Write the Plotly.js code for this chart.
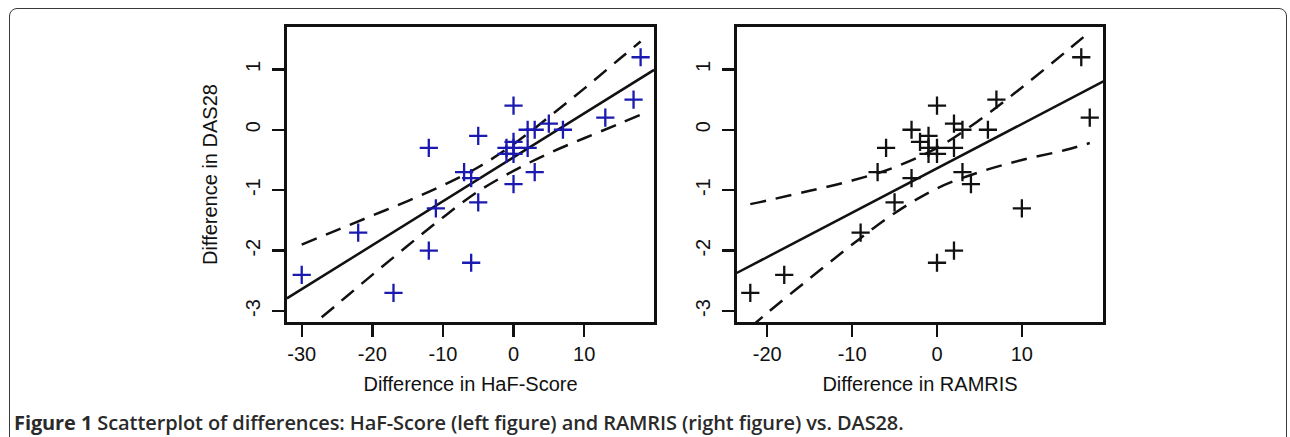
<!DOCTYPE html>
<html>
<head>
<meta charset="utf-8">
<script src="https://cdn.plot.ly/plotly-3.0.1.min.js"></script>
<style>
  html, body { margin: 0; padding: 0; background: #fff; width: 1290px; height: 437px; overflow: hidden; }
  #plot { position: absolute; left: 0; top: 0; width: 1290px; height: 437px; }
  #frame { position: absolute; left: 9px; top: 8px; width: 1278px; height: 445px;
           border: 1.5px solid #3a3a3a; border-radius: 8px; box-sizing: border-box; pointer-events: none; }
  #caption { position: absolute; left: 14px; top: 411px; font-family: "Open Sans", sans-serif;
             font-size: 20px; line-height: 24px; color: #2a2a2a; white-space: nowrap; font-weight: 600; letter-spacing: -0.1px; }
  #caption b { font-weight: 700; }
</style>
</head>
<body>
<div id="plot"></div>
<div id="frame"></div>
<div id="caption"><b>Figure 1</b> Scatterplot of differences: HaF-Score (left figure) and RAMRIS (right figure) vs. DAS28.</div>
<script>
// ---- data ----
const hafDiff = [18, 17, 13, 7, 5, 3, 2, 2, 3, 0, 0, -5, -5, -12, -7, -6, -11, -22, -30, -17, -12, -6, 0, -1, -1, 0, 0];
const dasDiffLeft = [1.2, 0.5, 0.2, 0, 0.1, 0, 0, -0.3, -0.7, 0.4, -0.9, -0.1, -1.2, -0.3, -0.7, -0.8, -1.3, -1.7, -2.4, -2.7, -2.0, -2.2, -0.2, -0.3, -0.4, -0.4, -0.3];

const ramrisDiff = [17, 18, 7, 6, 0, -3, -6, -7, -3, -5, 10, 2, 3, 2, 3, 4, -9, -18, -22, 0, 2, -1, -2, -1, 0, -1, 0];
const dasDiffRight = [1.2, 0.2, 0.5, 0, 0.4, 0, -0.3, -0.7, -0.8, -1.2, -1.3, 0.1, 0, -0.3, -0.7, -0.9, -1.7, -2.4, -2.7, -2.2, -2.0, -0.1, -0.2, -0.3, -0.3, -0.4, -0.4];

// regression lines (endpoints read at the panel edges)
const fitXLeft = [-32.1, 19.9];
const fitYLeft = [-2.79, 0.99];
const fitXRight = [-23.6, 19.6];
const fitYRight = [-2.37, 0.80];

// confidence band curves
const bandXLeft = [-30, -25, -20, -15, -10, -5, 0, 5, 10, 15, 18];
const upperLeft = [-1.90, -1.66, -1.42, -1.18, -0.92, -0.62, -0.24, 0.21, 0.68, 1.17, 1.46];
const lowerLeft = [-3.38, -2.89, -2.40, -1.92, -1.45, -1.02, -0.68, -0.39, -0.14, 0.10, 0.25];

const bandXRight = [-22, -20, -15, -10, -5, 0, 5, 10, 15, 18];
const upperRight = [-1.23, -1.17, -1.01, -0.84, -0.62, -0.30, 0.16, 0.70, 1.27, 1.62];
const lowerRight = [-3.27, -3.03, -2.46, -1.90, -1.38, -0.97, -0.70, -0.50, -0.34, -0.22];

const xTicksLeft = [-30, -20, -10, 0, 10];
const xTicksRight = [-20, -10, 0, 10];
const yTicks = [-3, -2, -1, 0, 1];

const xTitleLeft = "Difference in HaF-Score";
const xTitleRight = "Difference in RAMRIS";
const yTitle = "Difference in DAS28";

// ---- styling ----
const blue = "#1a1ab0";
const black = "#111111";
const axisFont = { family: "Liberation Sans, Arial, sans-serif", size: 20, color: "#111" };

function markers(x, y, color, xa, ya) {
  return { x: x, y: y, xaxis: xa, yaxis: ya, type: "scatter", mode: "markers", hoverinfo: "skip",
    marker: { symbol: "cross-thin", size: 13, color: color, line: { color: color, width: 2.3 } } };
}
function line(x, y, dash, xa, ya, shape) {
  return { x: x, y: y, xaxis: xa, yaxis: ya, type: "scatter", mode: "lines", hoverinfo: "skip",
    line: { color: black, width: 2.5, dash: dash, shape: shape || "linear" } };
}

const data = [
  line(fitXLeft, fitYLeft, "solid", "x", "y"),
  line(bandXLeft, upperLeft, "16px,10px", "x", "y", "spline"),
  line(bandXLeft, lowerLeft, "16px,10px", "x", "y", "spline"),
  markers(hafDiff, dasDiffLeft, blue, "x", "y"),
  line(fitXRight, fitYRight, "solid", "x2", "y2"),
  line(bandXRight, upperRight, "16px,10px", "x2", "y2", "spline"),
  line(bandXRight, lowerRight, "16px,10px", "x2", "y2", "spline"),
  markers(ramrisDiff, dasDiffRight, black, "x2", "y2")
];

function xAxis(domain, range, ticks, title) {
  return { domain: domain, range: range, tickmode: "array", tickvals: ticks, ticktext: ticks.map(String),
    showline: true, mirror: true, linecolor: black, linewidth: 3, showgrid: false, zeroline: false,
    ticks: "outside", ticklen: 12, tickwidth: 2.4, tickcolor: black, tickfont: axisFont,
    title: { text: title, font: axisFont, standoff: 14 }, fixedrange: true };
}
function yAxis(domain, anchor, title) {
  return { domain: domain, range: [-3.18, 1.7], anchor: anchor, tickmode: "array", tickvals: yTicks,
    ticktext: yTicks.map(String), tickangle: -90, ticklabelstandoff: 4,
    showline: true, mirror: true, linecolor: black, linewidth: 3, showgrid: false, zeroline: false,
    ticks: "outside", ticklen: 12, tickwidth: 2.4, tickcolor: black, tickfont: axisFont,
    title: { text: title, font: axisFont, standoff: 20 }, fixedrange: true };
}

const yDom = [0.2632, 0.9382];
const layout = {
  width: 1290, height: 437,
  margin: { l: 0, r: 0, t: 0, b: 0 },
  paper_bgcolor: "#ffffff", plot_bgcolor: "#ffffff",
  showlegend: false,
  xaxis: Object.assign(xAxis([0.2225, 0.5070], [-32.08, 19.9], xTicksLeft, xTitleLeft), { anchor: "y" }),
  yaxis: yAxis(yDom, "x", yTitle),
  xaxis2: Object.assign(xAxis([0.5711, 0.8553], [-23.6, 19.6], xTicksRight, xTitleRight), { anchor: "y2" }),
  yaxis2: yAxis(yDom, "x2", "")
};

Plotly.newPlot("plot", data, layout, { displayModeBar: false, staticPlot: true });
</script>
</body>
</html>
